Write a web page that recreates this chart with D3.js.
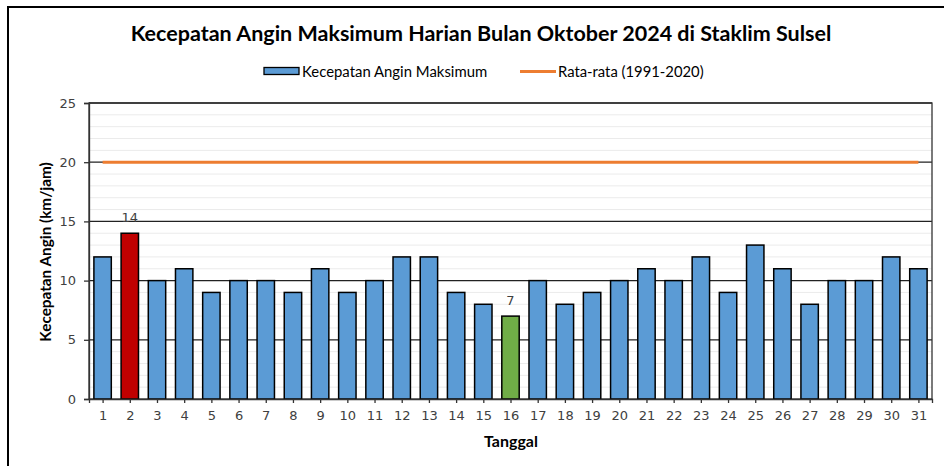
<!DOCTYPE html>
<html><head><meta charset="utf-8">
<script src="https://cdn.jsdelivr.net/npm/d3@7"></script>
<style>body{margin:0;background:#fff}svg{display:block}</style>
</head><body>
<script>
const days = d3.range(1, 32).map(String);
const windMax = [12,14,10,11,9,10,10,9,11,9,10,12,12,9,8,7,10,8,9,10,11,10,12,9,13,11,8,10,10,12,11];
const normal = 20;
const yTicks = [0,5,10,15,20,25];
const labelled = {"2":"14","16":"7"};
const highlight = {"2":"#C00000","16":"#70AD47"};
const title = "Kecepatan Angin Maksimum Harian Bulan Oktober 2024 di Staklim Sulsel";
const seriesNames = ["Kecepatan Angin Maksimum","Rata-rata (1991-2020)"];

const W=944,H=466;
const m={l:89,r:932,t:103,b:399};
const svg=d3.select("body").append("svg").attr("width",W).attr("height",H);
const calibri="Lato, 'Open Sans', sans-serif";
const tickFont="'DejaVu Sans', Verdana, sans-serif";

svg.append("rect").attr("x",8).attr("y",7).attr("width",W).attr("height",H).attr("fill","#fff").attr("stroke","#000").attr("stroke-width",2);

const x=d3.scaleBand().domain(days).range([m.l,m.r]).paddingInner(0.36).paddingOuter(0.18);
const xc=d3.scalePoint().domain(days).range([m.l,m.r]).padding(0.5);
const y=d3.scaleLinear().domain([0,25]).range([m.b,m.t]);

// minor grid
svg.append("g").selectAll("line").data(d3.range(1,25).filter(v=>v%5)).join("line")
 .attr("x1",m.l).attr("x2",m.r).attr("y1",d=>y(d)).attr("y2",d=>y(d))
 .attr("stroke","#ebebeb").attr("stroke-width",1);
// major grid
svg.append("g").selectAll("line").data([5,10,15,20,25]).join("line")
 .attr("x1",m.l).attr("x2",m.r).attr("y1",d=>y(d)).attr("y2",d=>y(d))
 .attr("stroke","#222").attr("stroke-width",1.3);
// plot border
svg.append("rect").attr("x",m.l).attr("y",m.t).attr("width",m.r-m.l).attr("height",m.b-m.t)
 .attr("fill","none").attr("stroke","#333").attr("stroke-width",1.3);

// bars
svg.append("g").selectAll("rect").data(days).join("rect")
 .attr("x",d=>x(d)).attr("width",x.bandwidth())
 .attr("y",(d,i)=>y(windMax[i])).attr("height",(d,i)=>y(0)-y(windMax[i]))
 .attr("fill",d=>highlight[d]||"#5B9BD5").attr("stroke","#000").attr("stroke-width",1.5);

// labels
svg.append("g").selectAll("text").data(days.filter(d=>labelled[d])).join("text")
 .attr("x",d=>xc(d)).attr("y",d=>y(windMax[days.indexOf(d)])-11)
 .attr("text-anchor","middle").attr("font-family",tickFont).attr("font-size",13).attr("fill","#404040")
 .text(d=>labelled[d]);

// average line
svg.append("line").attr("x1",xc(days[0])).attr("x2",xc(days[days.length-1]))
 .attr("y1",y(normal)).attr("y2",y(normal)).attr("stroke","#ED7D31").attr("stroke-width",3);

// axes
const yAx=svg.append("g").attr("transform",`translate(${m.l},0)`)
 .call(d3.axisLeft(y).tickValues(yTicks).tickSize(5).tickPadding(8));
yAx.select(".domain").attr("stroke","#333").attr("stroke-width",1.3);
yAx.selectAll(".tick line").attr("stroke","#333").attr("stroke-width",1.3);
yAx.selectAll("text").attr("font-family",tickFont).attr("font-size",13).attr("fill","#404040");

const xAx=svg.append("g").attr("transform",`translate(0,${m.b})`)
 .call(d3.axisBottom(xc).tickSize(4).tickPadding(8));
xAx.select(".domain").attr("stroke","#333").attr("stroke-width",1.3);
xAx.selectAll(".tick line").attr("stroke","#333").attr("stroke-width",1.3);
xAx.selectAll("text").attr("font-family",tickFont).attr("font-size",13).attr("fill","#404040");

// titles
svg.append("text").attr("x",481).attr("y",41).attr("text-anchor","middle")
 .attr("font-family",calibri).attr("font-weight","bold").attr("font-size",21.5).attr("fill","#000").text(title);
svg.append("text").attr("x",511).attr("y",447).attr("text-anchor","middle")
 .attr("font-family",calibri).attr("font-weight","bold").attr("font-size",16).attr("fill","#000").text("Tanggal");
svg.append("text").attr("transform","translate(51,252) rotate(-90)").attr("text-anchor","middle")
 .attr("font-family",calibri).attr("font-weight","bold").attr("font-size",15.3).attr("fill","#000").text("Kecepatan Angin (km/jam)");

// legend
const lg=svg.append("g");
lg.append("rect").attr("x",264).attr("y",67.5).attr("width",35).attr("height",7).attr("fill","#5B9BD5").attr("stroke","#000").attr("stroke-width",1.3);
lg.append("text").attr("x",302).attr("y",76.5).attr("font-family",calibri).attr("font-size",14.9).attr("fill","#000").text(seriesNames[0]);
lg.append("line").attr("x1",520).attr("x2",556).attr("y1",71.5).attr("y2",71.5).attr("stroke","#ED7D31").attr("stroke-width",3);
lg.append("text").attr("x",558).attr("y",76.5).attr("font-family",calibri).attr("font-size",14.8).attr("fill","#000").text(seriesNames[1]);
</script>
</body></html>
